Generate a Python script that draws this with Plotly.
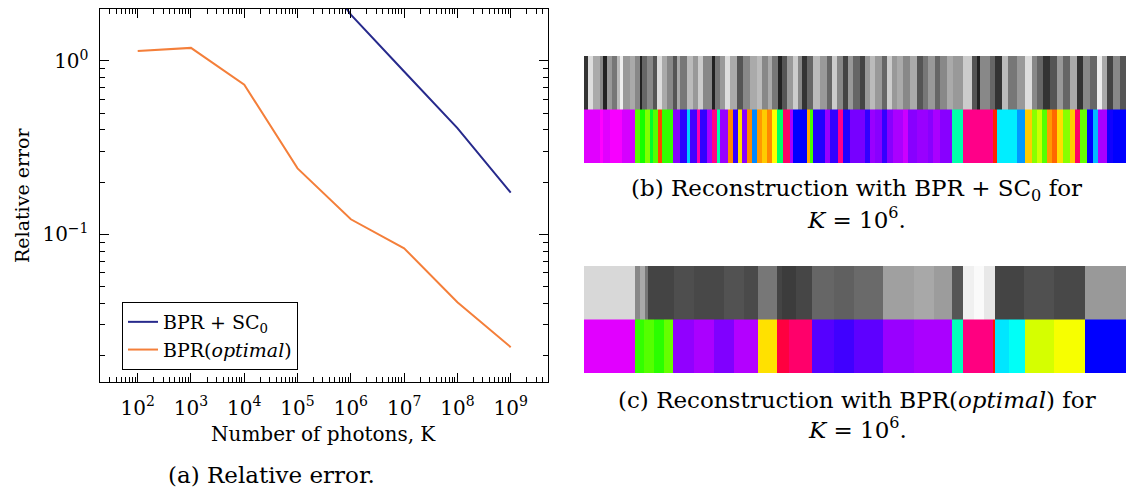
import plotly.graph_objects as go

# ---------------- Panel (a): relative error ----------------
photons = [1e2, 1e3, 1e4, 1e5, 1e6, 1e7, 1e8, 1e9]
err_optimal = [1.14, 1.19, 0.73, 0.24, 0.122, 0.083, 0.0405, 0.0223]
photons_sc0 = [1e5, 1e6, 1e7, 1e8, 1e9]
err_sc0 = [5.0, 1.85, 0.87, 0.41, 0.174]

x_tickvals = [1e2, 1e3, 1e4, 1e5, 1e6, 1e7, 1e8, 1e9]
x_ticktext = ["10<sup>2</sup>", "10<sup>3</sup>", "10<sup>4</sup>", "10<sup>5</sup>",
              "10<sup>6</sup>", "10<sup>7</sup>", "10<sup>8</sup>", "10<sup>9</sup>"]
y_tickvals = [0.1, 1]
y_ticktext = ["10<sup>\u22121</sup>", "10<sup>0</sup>"]

# ---------------- Panel (b): BPR + SC0 reconstruction strip ----------------
b_gray_starts = [0, 4, 9, 16, 19, 23, 28, 33, 36, 39, 46, 51, 56, 58, 63, 69, 73, 78, 83, 89,
                 93, 96, 103, 109, 114, 119, 128, 131, 136, 141, 146, 153, 159, 166, 173, 178,
                 184, 188, 194, 198, 203, 209, 214, 218, 223, 229, 236, 243, 248, 253, 259, 264,
                 269, 276, 281, 286, 291, 298, 303, 308, 313, 319, 326, 333, 339, 344, 351, 356,
                 363, 369, 379, 388, 393, 396, 406, 411, 418, 424, 433, 441, 448, 453, 459, 466,
                 473, 479, 486, 493, 499, 506, 513, 518, 523, 529, 536]
b_gray_levels = [0x33, 0xdd, 0xaa, 0x88, 0x22, 0x99, 0x77, 0xbb, 0xee, 0x99, 0xaa, 0x88, 0x22,
                 0x66, 0x88, 0x55, 0xdd, 0xaa, 0x88, 0x55, 0xaa, 0x77, 0xbb, 0x99, 0xcc, 0x88,
                 0x22, 0x77, 0x99, 0xdd, 0xaa, 0x55, 0x88, 0xaa, 0xbb, 0x88, 0xaa, 0x77, 0x22,
                 0x55, 0x99, 0xcc, 0x88, 0x33, 0x66, 0xbb, 0x99, 0x66, 0xcc, 0x88, 0x44, 0x99,
                 0x66,
                 0x44, 0x99, 0xbb, 0x99, 0x66, 0xcc, 0x99, 0xaa, 0x88, 0xaa, 0x55, 0x77, 0x99,
                 0x66, 0x88, 0xaa, 0x99, 0xcc, 0x55, 0x22, 0x88, 0x66, 0x33, 0xbb, 0x77, 0x99,
                 0xdd, 0x88, 0x66, 0x33, 0x55, 0x99, 0x66, 0xaa, 0x33, 0x88, 0x66, 0xee, 0xaa,
                 0x44, 0x88, 0x55]
b_hue_starts = [0, 16, 19, 26, 38, 51, 56, 61, 66, 69, 74, 78, 89, 96, 103, 106, 113, 116,
                123, 128, 133, 136, 144, 149, 154, 158, 163, 168, 173, 178, 183, 188, 193, 199,
                206, 209, 223, 226, 229, 241, 246, 254, 259, 266,
                276, 281, 286, 291, 298, 303, 309, 319, 324, 333, 344, 349, 356, 368, 379, 409,
                413, 433, 441, 448, 453, 458, 463, 468, 473, 479, 486, 491, 496, 503, 509, 514,
                523, 529]
b_hues = [293, 300, 293, 298, 290, 100, 115, 90, 130, 100, 16, 108, 272, 250, 192, 256, 320,
          252, 280, 328, 160, 276, 32, 252, 52, 272, 32, 208, 36, 48, 32, 60, 144, 336, 280,
          240, 40, 104, 248, 276, 252, 328, 248, 268,
          268, 252, 276, 272, 252, 272, 280, 288, 272, 276, 272, 280, 272, 160, 328, 8, 184,
          204, 48, 88, 72, 100, 36, 24, 52, 88, 48, 336, 96, 240, 196, 280, 244, 240]

# ---------------- Panel (c): BPR(optimal) reconstruction strip ----------------
c_gray_starts = [0, 51, 56, 61, 64, 90, 110, 140, 160, 174, 193, 198, 212, 228, 250, 270, 299,
                 330, 350, 368, 379, 390, 400, 411, 440, 470, 501]
c_gray_levels = [0xd8, 0x88, 0xaa, 0x77, 0x44, 0x4e, 0x48, 0x52, 0x4a, 0x77, 0x44, 0x3c,
                 0x46, 0x66, 0x60, 0x6a, 0xa0, 0xa8, 0x9c, 0x55, 0xf0, 0xfa, 0xe8, 0x44, 0x50,
                 0x48, 0x99]
c_hue_starts = [0, 51, 60, 70, 80, 89, 110, 130, 150, 174, 193, 205, 228, 250, 270, 299, 330,
                368, 379, 409, 411, 425, 441, 470, 501]
c_hues = [293, 108, 100, 110, 96, 274, 280, 270, 282, 53, 345, 335, 260, 255, 262, 276, 280,
          164, 330, 5, 186, 178, 70, 62, 240]

STRIP_W = 542

W, H = 1126, 492
SERIF = "DejaVu Serif"


def edges(starts):
    return list(starts) + [STRIP_W]


hue_scale = [[0, "rgb(255,0,0)"], [1 / 6, "rgb(255,255,0)"], [2 / 6, "rgb(0,255,0)"],
             [3 / 6, "rgb(0,255,255)"], [4 / 6, "rgb(0,0,255)"], [5 / 6, "rgb(255,0,255)"],
             [1, "rgb(255,0,0)"]]
gray_scale = [[0, "rgb(0,0,0)"], [1, "rgb(255,255,255)"]]

fig = go.Figure()

fig.add_trace(go.Scatter(x=photons_sc0, y=err_sc0, mode="lines", name="BPR + SC<sub>0</sub>",
                         line=dict(color="#272a8c", width=2), xaxis="x", yaxis="y"))
fig.add_trace(go.Scatter(x=photons, y=err_optimal, mode="lines", name="BPR(<i>optimal</i>)",
                         line=dict(color="#f47f3a", width=2), xaxis="x", yaxis="y"))

for starts, levels, ax in [(b_gray_starts, b_gray_levels, "2"), (c_gray_starts, c_gray_levels, "3")]:
    fig.add_trace(go.Heatmap(z=[levels], x=edges(starts), y=[1, 2], colorscale=gray_scale,
                             zmin=0, zmax=255, showscale=False, hoverinfo="skip",
                             xaxis="x" + ax, yaxis="y" + ax))
for starts, hues, ax in [(b_hue_starts, b_hues, "2"), (c_hue_starts, c_hues, "3")]:
    fig.add_trace(go.Heatmap(z=[hues], x=edges(starts), y=[0, 1], colorscale=hue_scale,
                             zmin=0, zmax=360, showscale=False, hoverinfo="skip",
                             xaxis="x" + ax, yaxis="y" + ax))

minor_x = [m * 10 ** k for k in range(1, 10) for m in range(2, 10)]
minor_y = [m * 10.0 ** k for k in range(-2, 1) for m in range(2, 10)]

axis_common = dict(showline=True, linecolor="black", linewidth=1, mirror="ticks",
                   ticks="inside", ticklen=9, tickwidth=1, tickcolor="black",
                   showgrid=False, zeroline=False,
                   tickfont=dict(family=SERIF, size=20, color="black"))

fig.update_layout(
    width=W, height=H, autosize=False,
    margin=dict(l=0, r=0, t=0, b=0),
    paper_bgcolor="white", plot_bgcolor="white",
    showlegend=True,
    legend=dict(x=122 / W, y=1 - 302 / H, xanchor="left", yanchor="top",
                bordercolor="black", borderwidth=1, bgcolor="white",
                font=dict(family=SERIF, size=19, color="black"), tracegroupgap=0),
    xaxis=dict(type="log", range=[1.283, 9.70], domain=[99.5 / W, 548 / W], anchor="y",
               tickmode="array", tickvals=x_tickvals, ticktext=x_ticktext,
               ticklabelstandoff=8,
               minor=dict(tickmode="array", tickvals=minor_x, ticks="inside", ticklen=5,
                          tickcolor="black", showgrid=False),
               **axis_common),
    yaxis=dict(type="log", range=[-1.85, 0.30], domain=[1 - 381.5 / H, 1 - 9 / H], anchor="x",
               tickmode="array", tickvals=y_tickvals, ticktext=y_ticktext,
               ticklabelstandoff=6,
               minor=dict(tickmode="array", tickvals=minor_y, ticks="inside", ticklen=5,
                          tickcolor="black", showgrid=False),
               **axis_common),
    xaxis2=dict(domain=[584 / W, 1.0], range=[0, STRIP_W], visible=False, anchor="y2"),
    yaxis2=dict(domain=[1 - 163 / H, 1 - 56 / H], range=[0, 2], visible=False, anchor="x2"),
    xaxis3=dict(domain=[584 / W, 1.0], range=[0, STRIP_W], visible=False, anchor="y3"),
    yaxis3=dict(domain=[1 - 373 / H, 1 - 266 / H], range=[0, 2], visible=False, anchor="x3"),
)


def label(text, x, y, size=22, angle=0):
    fig.add_annotation(text=text, x=x / W, y=1 - y / H, xref="paper", yref="paper",
                       showarrow=False, xanchor="center", yanchor="middle", textangle=angle,
                       font=dict(family=SERIF, size=size, color="black"))


label("Relative error", 22, 195, size=19, angle=-90)
label("Number of photons, K", 323, 434, size=20)
label("(a) Relative error.", 271, 475, size=23)
label("(b) Reconstruction with BPR + SC<sub>0</sub> for", 856, 190, size=23)
label("<i>K</i> = 10<sup>6</sup>.", 856, 218, size=23)
label("(c) Reconstruction with BPR(<i>optimal</i>) for", 857, 400, size=23)
label("<i>K</i> = 10<sup>6</sup>.", 857, 428, size=23)

fig.write_html("out.html", config={"displayModeBar": False},
               post_script="document.body.style.margin='0px';document.body.style.overflow='hidden';")
